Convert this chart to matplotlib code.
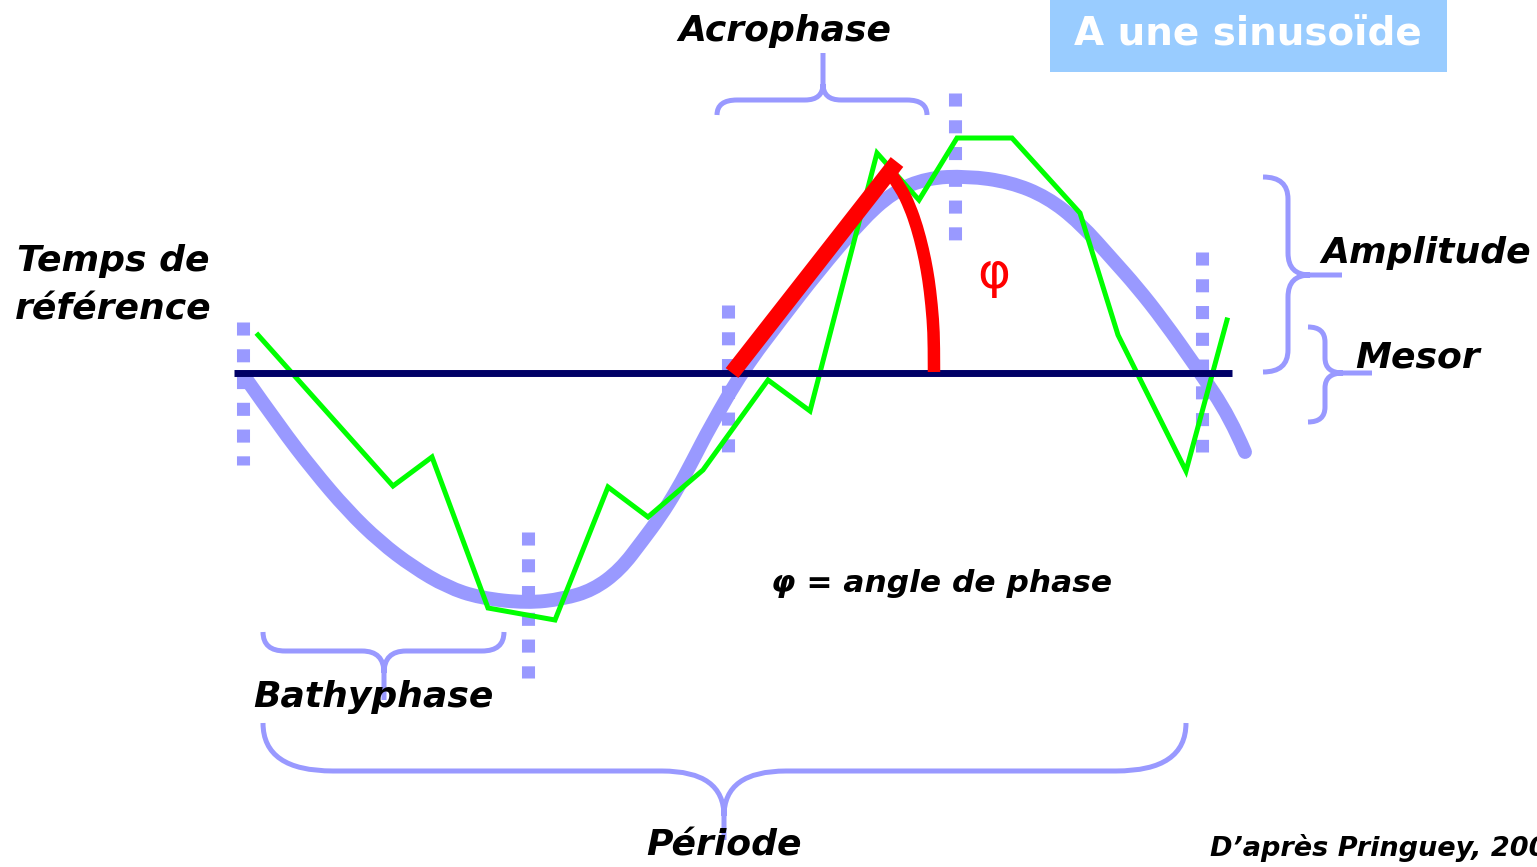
import matplotlib
matplotlib.use('Agg')
import matplotlib.pyplot as plt
from matplotlib.path import Path
from matplotlib.patches import PathPatch, Rectangle

# ==================== 数据 (像素坐标, 从图上读取) ====================
# 拟合的余弦曲线 (蓝)
curve_x = [247, 280, 313, 347, 380, 413, 447, 480, 527, 563, 593, 620, 643,
           660, 677, 693, 710, 743, 783, 817, 860, 893, 927, 967, 1010, 1047,
           1080, 1113, 1137, 1163, 1197, 1230, 1245]
curve_y = [380, 427, 470, 510, 542, 567, 587, 598, 603, 599, 590, 570, 540,
           517, 490, 460, 427, 370, 317, 273, 222, 192, 178, 176, 182, 197,
           223, 260, 287, 320, 368, 417, 452]

# 实测数据 (绿)
obs_x = [258, 393, 432, 488, 555, 608, 648, 703, 768, 810, 877, 919, 957, 1012, 1080, 1118, 1186, 1227]
obs_y = [335, 486, 457, 608, 620, 487, 517, 470, 380, 411, 153, 200, 138, 138, 213, 335, 471, 320]

# Mesor
mesor_y = 373
mesor_x = [234, 1232]

# 相位角 (红)
phase_line_x = [732, 897]
phase_line_y = [373, 162]
arc_x = [891, 901, 910, 917, 923, 927, 930, 933, 934, 934]
arc_y = [174, 188, 207, 227, 250, 270, 290, 320, 345, 372]

# 竖直虚线: x, y_top, y_bottom
marks_x = [243, 528, 728, 955, 1202]
marks_top = [322, 532, 305, 93, 252]
marks_bot = [465, 678, 452, 240, 452]

BLUE = '#9999FF'
GREEN = '#00FF00'
RED = '#FF0000'
NAVY = '#000066'
FONT = 'DejaVu Sans'

fig = plt.figure(figsize=(15.37, 8.67), dpi=100)
ax = fig.add_axes([0, 0, 1, 1])
ax.set_xlim(0, 1537)
ax.set_ylim(867, 0)
ax.axis('off')


def smooth_path(xs, ys):
    """读取的点作为二次贝塞尔控制点, 让粗线更圆滑"""
    pts = list(zip(xs, ys))
    verts = [pts[0]]
    codes = [Path.MOVETO]
    for i in range(1, len(pts) - 1):
        mid = ((pts[i][0] + pts[i + 1][0]) / 2, (pts[i][1] + pts[i + 1][1]) / 2)
        if i == len(pts) - 2:
            mid = pts[-1]
        verts += [pts[i], mid]
        codes += [Path.CURVE3, Path.CURVE3]
    return Path(verts, codes)


def brace(x0, x1, xm, yend, ybar, ytip, rx, rx2, ry2, vertical=False):
    """花括号: 两端在 yend, 横杆在 ybar, 尖在 (xm, ytip)"""
    d = 1 if ytip > ybar else -1
    verts = [(x0, yend), (x0, ybar), (x0 + rx, ybar), (xm - rx2, ybar),
             (xm, ybar), (xm, ybar + d * ry2), (xm, ytip),
             (x1, yend), (x1, ybar), (x1 - rx, ybar), (xm + rx2, ybar),
             (xm, ybar), (xm, ybar + d * ry2)]
    codes = [Path.MOVETO, Path.CURVE3, Path.CURVE3, Path.LINETO,
             Path.CURVE3, Path.CURVE3, Path.LINETO,
             Path.MOVETO, Path.CURVE3, Path.CURVE3, Path.LINETO,
             Path.CURVE3, Path.CURVE3]
    if vertical:
        verts = [(v, u) for u, v in verts]
    ax.add_patch(PathPatch(Path(verts, codes), fill=False, edgecolor=BLUE,
                           lw=3.6, capstyle='butt', joinstyle='round'))


# 竖直虚线
for x, t, b in zip(marks_x, marks_top, marks_bot):
    ax.plot([x, x], [t, b], color=BLUE, lw=9.4, linestyle=(0, (1, 1.05)),
            dash_capstyle='butt', zorder=2)

# 余弦曲线
ax.add_patch(PathPatch(smooth_path(curve_x, curve_y), fill=False, edgecolor=BLUE,
                       lw=10, capstyle='round', joinstyle='round', zorder=3))
# 实测
ax.plot(obs_x, obs_y, color=GREEN, lw=3.6, solid_joinstyle='miter', zorder=4)
# Mesor
ax.plot(mesor_x, [mesor_y, mesor_y], color=NAVY, lw=5, solid_capstyle='butt', zorder=5)
# 相位角
ax.add_patch(PathPatch(smooth_path(arc_x, arc_y), fill=False, edgecolor=RED,
                       lw=9, capstyle='butt', joinstyle='round', zorder=6))
ax.plot(phase_line_x, phase_line_y, color=RED, lw=11.5, solid_capstyle='butt', zorder=6)

# 花括号
brace(717, 927, 823, 115, 100, 53, 20, 18, 16)               # Acrophase
brace(263, 504, 384, 632, 651, 700, 22, 22, 22)              # Bathyphase
brace(263, 1186, 724, 723, 771, 840, 70, 62, 45)             # Période
brace(177, 372, 275, 1263, 1288, 1342, 22, 22, 22, vertical=True)   # Amplitude
brace(327, 422, 373, 1308, 1325, 1372, 15, 15, 18, vertical=True)   # Mesor

# 文本
tkw = dict(family=FONT, weight='bold', style='italic', color='black',
           ha='center', va='center', zorder=8)
ax.text(785, 31, 'Acrophase', fontsize=26, **tkw)
ax.text(113, 285, 'Temps de\nréférence', fontsize=26, linespacing=1.55, **tkw)
ax.text(1426, 253, 'Amplitude', fontsize=26, **tkw)
ax.text(1418, 358, 'Mesor', fontsize=26, **tkw)
ax.text(373, 697, 'Bathyphase', fontsize=26, **tkw)
ax.text(724, 846, 'Période', fontsize=26, **tkw)
ax.text(942, 583, 'φ = angle de phase', fontsize=22.5, **tkw)
ax.text(1210, 848, 'D’après Pringuey, 2005', fontsize=19.5,
        **{**tkw, 'ha': 'left'})
ax.text(994, 274, 'φ', fontsize=36, family=FONT, color=RED,
        ha='center', va='center', zorder=8)

# 标题框
ax.add_patch(Rectangle((1050, 0), 397, 72, facecolor='#99CCFF', edgecolor='none', zorder=7))
ax.text(1248, 35, 'A une sinusoïde', fontsize=28, family=FONT, weight='bold',
        color='white', ha='center', va='center', zorder=8)

plt.savefig('out.png', dpi=100)
plt.close()
